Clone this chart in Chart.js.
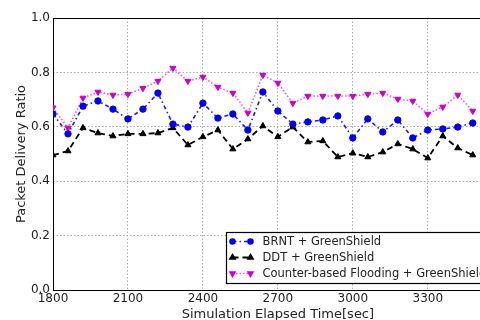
<!DOCTYPE html>
<html>
<head>
<meta charset="utf-8">
<script src="https://cdn.jsdelivr.net/npm/chart.js@4.4.1/dist/chart.umd.min.js"></script>
<style>
  html, body { margin: 0; padding: 0; background: #fff; overflow: hidden; }
  #wrap { width: 480px; height: 320px; overflow: hidden; }
  canvas { display: block; }
</style>
</head>
<body>
<div id="wrap"><canvas id="graphPdr" width="520" height="320"></canvas></div>
<script>
// temps de simulation (sec) et ratio de livraison par protocole
const times = [1800, 1860, 1920, 1980, 2040, 2100, 2160, 2220, 2280, 2340,
               2400, 2460, 2520, 2580, 2640, 2700, 2760, 2820, 2880, 2940,
               3000, 3060, 3120, 3180, 3240, 3300, 3360, 3420, 3480];
const brnt = [0.647, 0.574, 0.676, 0.695, 0.665, 0.629, 0.665, 0.724, 0.610, 0.599,
              0.687, 0.632, 0.647, 0.588, 0.728, 0.658, 0.610, 0.618, 0.625, 0.640,
              0.559, 0.629, 0.581, 0.625, 0.559, 0.588, 0.592, 0.599, 0.614];
const ddt = [0.496, 0.511, 0.596, 0.577, 0.566, 0.574, 0.574, 0.577, 0.596, 0.533,
             0.563, 0.588, 0.518, 0.555, 0.603, 0.563, 0.599, 0.544, 0.548, 0.489,
             0.503, 0.489, 0.507, 0.537, 0.518, 0.485, 0.566, 0.522, 0.496];
const flooding = [0.670, 0.596, 0.706, 0.728, 0.717, 0.720, 0.742, 0.768, 0.816, 0.768,
                  0.783, 0.746, 0.724, 0.651, 0.790, 0.761, 0.687, 0.713, 0.713, 0.713,
                  0.713, 0.720, 0.724, 0.702, 0.695, 0.647, 0.673, 0.717, 0.658];
const seriesNames = ['BRNT + GreenShield', 'DDT + GreenShield', 'Counter-based Flooding + GreenShield'];
const xMin = 1800, xMax = 3600, xStep = 300;
const yMin = 0, yMax = 1.0, yStep = 0.2;

Chart.defaults.font.family = '"DejaVu Sans", sans-serif';
Chart.defaults.color = '#222';

const toPoints = arr => arr.map((v, i) => ({ x: times[i], y: v }));

// cadre complet autour de la zone de tracé (style matplotlib)
const frame = {
  id: 'frame',
  beforeDatasetsDraw(chart) {
    const { ctx, chartArea: a } = chart;
    ctx.save();
    ctx.strokeStyle = '#000';
    ctx.lineWidth = 1;
    ctx.strokeRect(a.left + 0.5, a.top + 0.5, a.right - a.left, a.bottom - a.top);
    ctx.restore();
  }
};

// légende dans le coin en bas à droite
const legendInside = {
  id: 'legendInside',
  afterDraw(chart) {
    const { ctx, chartArea: a } = chart;
    const sets = chart.data.datasets;
    ctx.save();
    ctx.font = '11.5px "DejaVu Sans"';
    const textW = Math.max(...sets.map(d => ctx.measureText(d.label).width));
    const w = 36 + textW + 7;
    const h = 51;
    const x0 = a.left + 173.5;
    const y0 = Math.round(a.bottom - 7 - h) + 0.5;
    ctx.fillStyle = '#fff';
    ctx.fillRect(x0, y0, w, h);
    ctx.strokeStyle = '#000';
    ctx.lineWidth = 1.2;
    ctx.strokeRect(x0, y0, w, h);
    sets.forEach((d, i) => {
      const y = y0 + 9 + i * 16;
      ctx.strokeStyle = d.borderColor;
      ctx.lineWidth = d.borderWidth;
      ctx.setLineDash(d.borderDash || []);
      ctx.beginPath();
      ctx.moveTo(x0 + 6, y);
      ctx.lineTo(x0 + 24, y);
      ctx.stroke();
      ctx.setLineDash([]);
      ctx.fillStyle = d.pointBackgroundColor;
      ctx.strokeStyle = d.pointBorderColor;
      [x0 + 6, x0 + 24].forEach(px => {
        Chart.helpers.drawPoint(ctx, {
          pointStyle: d.pointStyle, radius: d.pointRadius - 0.7,
          rotation: d.pointRotation || 0, borderWidth: 1
        }, px, y);
      });
      ctx.fillStyle = '#222';
      ctx.textBaseline = 'middle';
      ctx.fillText(d.label, x0 + 36, y + 0.5);
    });
    ctx.restore();
  }
};

new Chart(document.getElementById('graphPdr'), {
  type: 'line',
  data: {
    datasets: [
      {
        label: seriesNames[0],
        data: toPoints(brnt),
        borderColor: '#1a1aff',
        borderWidth: 1.6,
        borderDash: [4, 3, 1.5, 3],
        pointStyle: 'circle',
        pointRadius: 3.2,
        pointBackgroundColor: '#0000ee',
        pointBorderColor: '#0000ee',
        pointBorderWidth: 1,
        tension: 0,
        fill: false
      },
      {
        label: seriesNames[1],
        data: toPoints(ddt),
        borderColor: '#000',
        borderWidth: 1.8,
        borderDash: [6, 4],
        pointStyle: 'triangle',
        pointRadius: 3.5,
        pointBackgroundColor: '#000',
        pointBorderColor: '#000',
        pointBorderWidth: 1,
        tension: 0,
        fill: false
      },
      {
        label: seriesNames[2],
        data: toPoints(flooding),
        borderColor: '#f050f0',
        borderWidth: 1.6,
        borderDash: [1.5, 2],
        pointStyle: 'triangle',
        pointRotation: 180,
        pointRadius: 3.5,
        pointBackgroundColor: '#cc00cc',
        pointBorderColor: '#cc00cc',
        pointBorderWidth: 1,
        tension: 0,
        fill: false
      }
    ]
  },
  options: {
    responsive: false,
    animation: false,
    devicePixelRatio: 1,
    layout: { padding: { top: 18, right: 17, bottom: 0, left: 0 } },
    plugins: {
      legend: { display: false },
      tooltip: { enabled: false }
    },
    scales: {
      x: {
        type: 'linear',
        min: xMin,
        max: xMax,
        ticks: {
          stepSize: xStep,
          padding: 2,
          font: { size: 12 },
          maxRotation: 0,
          callback: v => String(v)
        },
        grid: { color: '#aaa', lineWidth: 1, drawTicks: false },
        border: { display: false, dash: [1.5, 2] },
        title: {
          display: true,
          text: 'Simulation Elapsed Time[sec]',
          font: { size: 13 },
          padding: { top: 0, bottom: -2 }
        },
        afterFit: s => { s.height = 30; }
      },
      y: {
        min: yMin,
        max: yMax,
        ticks: {
          stepSize: yStep,
          padding: 3,
          font: { size: 12 },
          callback: v => v.toFixed(1)
        },
        grid: { color: '#aaa', lineWidth: 1, drawTicks: false },
        border: { display: false, dash: [1.5, 2] },
        title: {
          display: true,
          text: 'Packet Delivery Ratio',
          font: { size: 13 },
          padding: { top: 14, bottom: 0 }
        },
        afterFit: s => { s.width = 53; }
      }
    }
  },
  plugins: [frame, legendInside]
});
</script>
</body>
</html>
